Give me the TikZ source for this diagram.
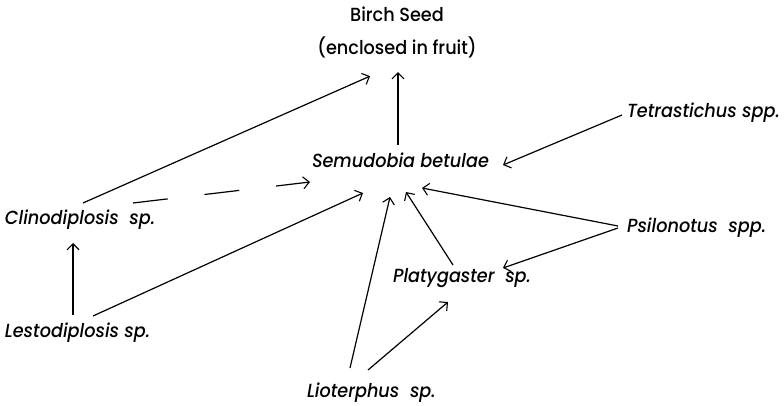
\documentclass[tikz,border=0pt]{standalone}
\usepackage{fontspec}
\setmainfont{Poppins}[UprightFont=* Medium, ItalicFont=* Medium Italic, FakeStretch=0.93]
\usetikzlibrary{arrows.meta}
\begin{document}
\begin{tikzpicture}[x=1pt,y=-1pt,
  lbl/.style={inner sep=0pt,outer sep=0pt,font=\fontsize{19}{33}\selectfont},
  sp/.style={lbl,font=\fontsize{19}{33}\selectfont\itshape,anchor=base west},
  arr/.style={line width=1.2pt,-{Straight Barb[length=6pt,width=12pt,line width=1.1pt]}}]
\useasboundingbox (0,0) rectangle (784,406);
\node[lbl,anchor=north,align=center] (birch) at (397,7) {Birch Seed\\(enclosed in fruit)};
\node[sp] (semu) at (312,168) {Semudobia betulae};
\node[sp] (clino) at (5,225) {Clinodiplosis\ \ sp.};
\node[sp] (lesto) at (5,337) {Lestodiplosis\ sp.};
\node[sp] (tetra) at (627,118) {Tetrastichus\ spp.};
\node[sp] (psilo) at (627,233) {Psilonotus\ \ spp.};
\node[sp] (platy) at (393,282) {Platygaster\ \ sp.};
\node[sp] (lio) at (307,397) {Lioterphus\ \ sp.};
% connectors
\draw[arr] ([shift={(78,-22)}]clino.base west) -- ([shift={(-27,18)}]birch.south);
\draw[arr] ([shift={(86,-23)}]semu.base west) -- ([shift={(1,14)}]birch.south);
\draw[arr,dash pattern=on 35pt off 37pt] ([shift={(128,-22)}]clino.base west) -- ([shift={(-2,14)}]semu.base west);
\draw[arr] ([shift={(68,-22)}]lesto.base west) -- ([shift={(68,18)}]clino.base west);
\draw[arr] ([shift={(88,-21)}]lesto.base west) -- ([shift={(51,25)}]semu.base west);
\draw[arr] ([shift={(-5,-3)}]tetra.base west) -- ([shift={(191,-3)}]semu.base west);
\draw[arr] ([shift={(-9,-7)}]psilo.base west) -- ([shift={(110,20)}]semu.base west);
\draw[arr] ([shift={(-9,-5)}]psilo.base west) -- ([shift={(110,-14)}]platy.base west);
\draw[arr] ([shift={(60,-17)}]platy.base west) -- ([shift={(94,24)}]semu.base west);
\draw[arr] ([shift={(43,-29)}]lio.base west) -- ([shift={(78,29)}]semu.base west);
\draw[arr] ([shift={(61,-27)}]lio.base west) -- ([shift={(55,20)}]platy.base west);
\end{tikzpicture}
\end{document}
